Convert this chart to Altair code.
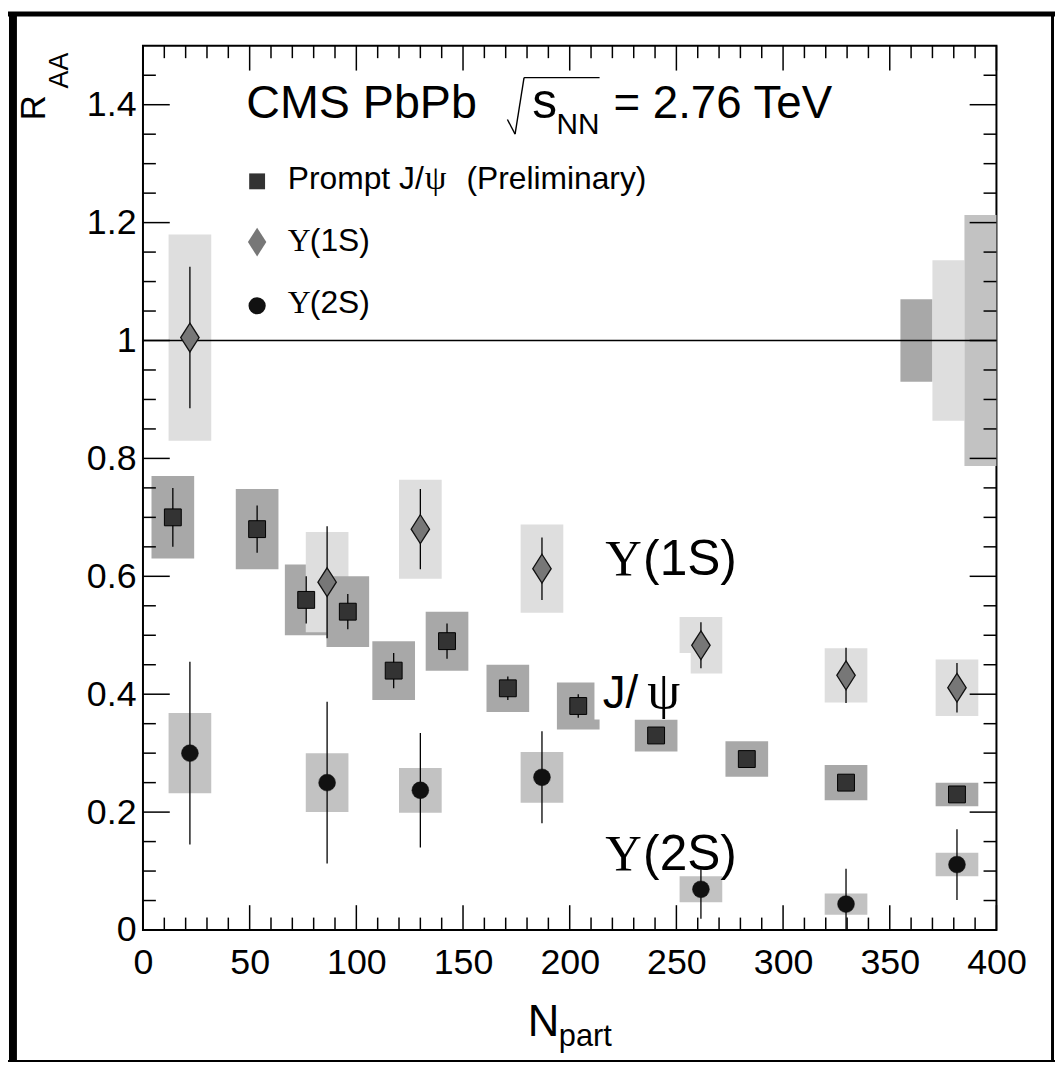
import altair as alt
import pandas as pd

# ---------------- data ----------------
jpsi_npart = [14, 53.5, 76.5, 96, 117.5, 142.5, 171, 204, 240.5, 283, 329.5, 381.5]
jpsi_raa = [0.70, 0.68, 0.56, 0.54, 0.44, 0.49, 0.41, 0.38, 0.33, 0.29, 0.25, 0.23]
jpsi_stat = [0.05, 0.04, 0.04, 0.03, 0.03, 0.03, 0.02, 0.02, 0.01, 0.01, 0.01, 0.01]
jpsi_syst = [0.07, 0.068, 0.06, 0.06, 0.05, 0.05, 0.04, 0.04, 0.027, 0.03, 0.03, 0.02]

ups_npart = [22, 86.3, 130, 187, 261.5, 329.5, 381.5]
ups1s_raa = [1.005, 0.59, 0.68, 0.613, 0.483, 0.432, 0.411]
ups1s_stat = [0.12, 0.095, 0.068, 0.053, 0.039, 0.047, 0.042]
ups1s_syst = [0.175, 0.085, 0.084, 0.075, 0.048, 0.046, 0.048]

ups2s_raa = [0.30, 0.25, 0.237, 0.259, 0.069, 0.044, 0.111]
ups2s_stat = [0.155, 0.137, 0.097, 0.078, 0.05, 0.06, 0.06]
ups2s_syst = [0.068, 0.05, 0.038, 0.043, 0.022, 0.018, 0.02]

# global (normalisation) uncertainties drawn at RAA = 1
glob_species = ["jpsi", "ups1s", "ups2s"]
glob_x1 = [355, 370, 385]
glob_x2 = [370, 385, 400]
glob_unc = [0.07, 0.136, 0.213]

x_ticks_major = [0, 50, 100, 150, 200, 250, 300, 350, 400]
x_ticks_minor = [v for v in range(10, 400, 10) if v % 50 != 0]
y_ticks_major = [0, 0.2, 0.4, 0.6, 0.8, 1.0, 1.2, 1.4]
y_ticks_minor = [0.05, 0.1, 0.15, 0.25, 0.3, 0.35, 0.45, 0.5, 0.55, 0.65, 0.7, 0.75,
                 0.85, 0.9, 0.95, 1.05, 1.1, 1.15, 1.25, 1.3, 1.35, 1.45]

BOX_HALF = 10  # half width of systematic boxes in Npart

# ---------------- tables ----------------
pts = pd.concat([
    pd.DataFrame({"species": "jpsi", "npart": jpsi_npart, "raa": jpsi_raa,
                  "stat": jpsi_stat, "syst": jpsi_syst}),
    pd.DataFrame({"species": "ups1s", "npart": ups_npart, "raa": ups1s_raa,
                  "stat": ups1s_stat, "syst": ups1s_syst}),
    pd.DataFrame({"species": "ups2s", "npart": ups_npart, "raa": ups2s_raa,
                  "stat": ups2s_stat, "syst": ups2s_syst}),
], ignore_index=True)
pts["lo"] = pts["raa"] - pts["stat"]
pts["hi"] = pts["raa"] + pts["stat"]

boxes = pd.DataFrame({
    "species": pts["species"],
    "x1": pts["npart"] - BOX_HALF, "x2": pts["npart"] + BOX_HALF,
    "y1": pts["raa"] - pts["syst"], "y2": pts["raa"] + pts["syst"],
})
gboxes = pd.DataFrame({
    "species": glob_species, "x1": glob_x1, "x2": glob_x2,
    "y1": [1 - u for u in glob_unc], "y2": [1 + u for u in glob_unc],
})
boxes = pd.concat([boxes, gboxes], ignore_index=True).sort_values("x1", kind="stable")

W, H = 860, 891
xs = alt.Scale(domain=[0, 400], nice=False, zero=False)
ys = alt.Scale(domain=[0, 1.5], nice=False, zero=False)
xax = alt.Axis(values=x_ticks_major, title=None, format="d")
yax = alt.Axis(values=y_ticks_major, title=None, format="~g")

SANS = "Liberation Sans"
SERIF = "Liberation Serif"


def X(f):
    return alt.X(f, scale=xs, axis=xax)


def Y(f):
    return alt.Y(f, scale=ys, axis=yax)


layers = []

# systematic boxes
layers.append(
    alt.Chart(boxes).mark_rect(opacity=1).encode(
        x=X("x1:Q"), x2="x2:Q", y=Y("y1:Q"), y2="y2:Q",
        fill=alt.Fill("species:N", legend=None,
                      scale=alt.Scale(domain=["jpsi", "ups1s", "ups2s"],
                                      range=["#a8a8a8", "#dedede", "#c2c2c2"])),
    )
)

# unity line
layers.append(
    alt.Chart(pd.DataFrame({"a": [0], "b": [400], "y": [1]})).mark_rule(
        color="black", strokeWidth=1.5).encode(x=X("a:Q"), x2="b:Q", y=Y("y:Q"))
)

# statistical error bars
layers.append(
    alt.Chart(pts).mark_rule(color="black", strokeWidth=1.3, clip=True).encode(
        x=X("npart:Q"), y=Y("lo:Q"), y2="hi:Q")
)

# white backgrounds of the in-plot labels (they hide a bit of the boxes)
lab_bg = pd.DataFrame({"x1": [211.6, 212], "x2": [256.7, 273], "y1": [0.357, 0.103], "y2": [0.47, 0.18]})
layers.append(
    alt.Chart(lab_bg).mark_rect(fill="white", opacity=1).encode(
        x=X("x1:Q"), x2="x2:Q", y=Y("y1:Q"), y2="y2:Q")
)

DIAMOND = "M0,-1L0.64,0L0,1L-0.64,0Z"

# markers
layers.append(
    alt.Chart(pts[pts.species == "jpsi"]).mark_point(
        shape="square", filled=True, fill="#333333", stroke="black", strokeWidth=1,
        size=289, opacity=1).encode(x=X("npart:Q"), y=Y("raa:Q"))
)
layers.append(
    alt.Chart(pts[pts.species == "ups1s"]).mark_point(
        shape=DIAMOND, filled=True, fill="#777777", stroke="#111111", strokeWidth=1.3,
        size=841, opacity=1).encode(x=X("npart:Q"), y=Y("raa:Q"))
)
layers.append(
    alt.Chart(pts[pts.species == "ups2s"]).mark_point(
        shape="circle", filled=True, fill="#111111", stroke="#111111", strokeWidth=0.5,
        size=289, opacity=1).encode(x=X("npart:Q"), y=Y("raa:Q"))
)

# legend symbols
leg_sym_x = 53.5
leg_y = [1.270, 1.167, 1.059]
layers.append(alt.Chart(pd.DataFrame({"x": [leg_sym_x], "y": [leg_y[0]]})).mark_point(
    shape="square", filled=True, fill="#333333", size=256, opacity=1).encode(x=X("x:Q"), y=Y("y:Q")))
layers.append(alt.Chart(pd.DataFrame({"x": [leg_sym_x], "y": [leg_y[1]]})).mark_point(
    shape=DIAMOND, filled=True, fill="#777777", size=841, opacity=1).encode(x=X("x:Q"), y=Y("y:Q")))
layers.append(alt.Chart(pd.DataFrame({"x": [leg_sym_x], "y": [leg_y[2]]})).mark_point(
    shape="circle", filled=True, fill="#111111", size=300, opacity=1).encode(x=X("x:Q"), y=Y("y:Q")))


def txt(t, x, y, size, font=SANS):
    df = pd.DataFrame({"x": [x], "y": [y], "t": [t]})
    return alt.Chart(df).mark_text(align="left", baseline="alphabetic", font=font,
                                   fontSize=size, color="black").encode(
        x=X("x:Q"), y=Y("y:Q"), text="t:N")


def ptxt(t, px, py, size, font=SANS, angle=0):
    df = pd.DataFrame({"t": [t]})
    return alt.Chart(df).mark_text(align="left", baseline="alphabetic", font=font,
                                   fontSize=size, color="black", angle=angle).encode(
        x=alt.value(px), y=alt.value(py), text="t:N")


# header
layers += [
    txt("CMS PbPb", 48.4, 1.377, 47),
    txt("s", 182.4, 1.377, 50),
    txt("NN", 193.8, 1.350, 30),
    txt("= 2.76 TeV", 220.5, 1.377, 46),
]
# square-root sign drawn as strokes in data coordinates
root = pd.DataFrame({
    "x": [170.8, 174.4, 178.6],
    "y": [1.375, 1.350, 1.446],
    "x2": [174.4, 178.6, 214.0],
    "y2": [1.350, 1.446, 1.446],
})
layers.append(
    alt.Chart(root).mark_rule(color="black", strokeWidth=1.4).encode(
        x=X("x:Q"), y=Y("y:Q"), x2="x2:Q", y2="y2:Q")
)

# legend texts
layers += [
    txt("Prompt J/", 67.9, 1.257, 32),
    txt("\u03c8", 132.1, 1.257, 35, SERIF),
    txt("(Preliminary)", 151.6, 1.257, 32),
    txt("\u03a5", 67.9, 1.152, 32, SERIF),
    txt("(1S)", 78.2, 1.152, 32),
    txt("\u03a5", 67.9, 1.047, 32, SERIF),
    txt("(2S)", 78.2, 1.047, 32),
]

# big in-plot labels
layers += [
    txt("\u03a5", 216.7, 0.602, 51, SERIF),
    txt("(1S)", 234.4, 0.602, 50),
    txt("J/", 215.5, 0.377, 46),
    txt("\u03c8", 236.3, 0.377, 53, SERIF),
    txt("\u03a5", 216.7, 0.101, 51, SERIF),
    txt("(2S)", 234.4, 0.101, 50),
]

# axis titles
layers += [
    ptxt("N", 387.7, 998, 44),
    ptxt("part", 419, 1008, 31),
    ptxt("R", -99, 75, 35, angle=270),
    ptxt("AA", -76, 43, 27, angle=270),
]


# inward ticks on all four sides
def xtick_layer(vals, length, side):
    y0, y1 = (H, H - length) if side == "bottom" else (0, length)
    return alt.Chart(pd.DataFrame({"v": vals})).mark_rule(color="black", strokeWidth=1.5).encode(
        x=X("v:Q"), y=alt.value(y0), y2=alt.value(y1))


def ytick_layer(vals, length, side):
    x0, x1 = (0, length) if side == "left" else (W, W - length)
    return alt.Chart(pd.DataFrame({"v": vals})).mark_rule(color="black", strokeWidth=1.5).encode(
        y=Y("v:Q"), x=alt.value(x0), x2=alt.value(x1))


for side in ["bottom", "top"]:
    layers.append(xtick_layer(x_ticks_major, 25, side))
    layers.append(xtick_layer(x_ticks_minor, 12.5, side))
for side in ["left", "right"]:
    layers.append(ytick_layer(y_ticks_major, 27, side))
    layers.append(ytick_layer(y_ticks_minor, 13, side))

# outer picture frame
frame = pd.DataFrame({"k": [0]})
layers += [
    alt.Chart(frame).mark_rule(color="black", strokeWidth=8).encode(
        x=alt.value(-131), y=alt.value(-34), y2=alt.value(1024)),
    alt.Chart(frame).mark_rule(color="black", strokeWidth=5).encode(
        y=alt.value(-32), x=alt.value(-136), x2=alt.value(920)),
    alt.Chart(frame).mark_rule(color="black", strokeWidth=2).encode(
        y=alt.value(1023), x=alt.value(-136), x2=alt.value(920)),
    alt.Chart(frame).mark_rule(color="black", strokeWidth=3).encode(
        x=alt.value(916.5), y=alt.value(-34), y2=alt.value(1024)),
]

chart = alt.layer(*layers).properties(
    width=W, height=H,
    autosize=alt.AutoSizeParams(type="none"),
    padding={"left": 136, "top": 34, "right": 59, "bottom": 135},
    background="white",
).configure_view(
    stroke="black", strokeWidth=2
).configure_axis(
    labelFont=SANS, labelFontSize=36, labelColor="black", ticks=False, tickSize=0,
    domain=False, grid=False, labelOverlap=False, labelFlush=False, labelBound=False,
).configure_axisX(
    labelPadding=16
).configure_axisY(
    labelPadding=7
)

chart.save("out.html", embed_options={"renderer": "svg", "actions": False})
